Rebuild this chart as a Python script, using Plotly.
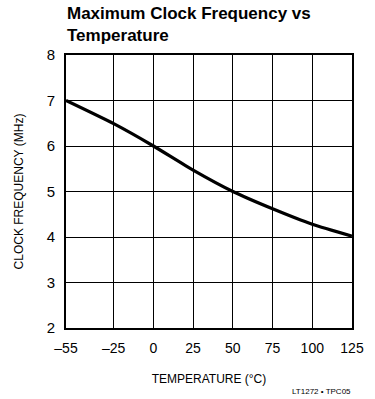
import plotly.graph_objects as go

# Maximum clock frequency versus ambient temperature
temperature_c = [-55, -25, 0, 25, 50, 75, 100, 125]
clock_mhz = [7.0, 6.49, 6.0, 5.47, 5.0, 4.62, 4.28, 4.02]

x_ticks = [-55, -25, 0, 25, 50, 75, 100, 125]
x_labels = ["–55", "–25", "0", "25", "50", "75", "100", "125"]
y_ticks = [2, 3, 4, 5, 6, 7, 8]

FONT = "Liberation Sans Narrow, Arial Narrow, Liberation Sans, Arial, sans-serif"

# plot area in pixels: top 55, bottom 328
PLOT_TOP, PLOT_BOTTOM = 55, 328


def paper_y(px):
    return (PLOT_BOTTOM - px) / (PLOT_BOTTOM - PLOT_TOP)


fig = go.Figure()
fig.add_trace(go.Scatter(
    x=temperature_c, y=clock_mhz, mode="lines",
    line=dict(color="black", width=3.2, shape="spline", smoothing=0.6),
    hoverinfo="skip", showlegend=False,
))

fig.update_layout(
    width=375, height=399,
    margin=dict(l=66, r=23, t=PLOT_TOP, b=399 - PLOT_BOTTOM),
    paper_bgcolor="white", plot_bgcolor="white",
    font=dict(family=FONT, color="black"),
    xaxis=dict(
        range=[-55, 125], tickvals=x_ticks, ticktext=x_labels,
        showgrid=True, gridcolor="black", gridwidth=1.3,
        showline=True, linecolor="black", linewidth=2, mirror=True,
        zeroline=False, ticks="", tickfont=dict(size=14),
        ticklabelstandoff=6,
        title=dict(text="TEMPERATURE (°C)", font=dict(size=12), standoff=20),
    ),
    yaxis=dict(
        range=[2, 8], tickvals=y_ticks,
        showgrid=True, gridcolor="black", gridwidth=1.3,
        showline=True, linecolor="black", linewidth=2, mirror=True,
        zeroline=False, ticks="", tickfont=dict(size=15),
        ticklabelstandoff=6,
        title=dict(text="CLOCK FREQUENCY (MHz)", font=dict(size=12), standoff=20),
    ),
)

# two-line bold heading above the grid
fig.add_annotation(
    text="<b>Maximum Clock Frequency vs</b>", xref="paper", yref="paper",
    x=-0.005, y=paper_y(13), xanchor="left", yanchor="middle",
    showarrow=False, font=dict(size=17, family=FONT),
)
fig.add_annotation(
    text="<b>Temperature</b>", xref="paper", yref="paper",
    x=-0.005, y=paper_y(35), xanchor="left", yanchor="middle",
    showarrow=False, font=dict(size=17, family=FONT),
)

fig.add_annotation(
    text="LT1272 • TPC05", xref="paper", yref="paper",
    x=1.003, y=paper_y(391), xanchor="right", yanchor="middle",
    showarrow=False, font=dict(size=8, family=FONT),
)

fig.write_html("out.html")
